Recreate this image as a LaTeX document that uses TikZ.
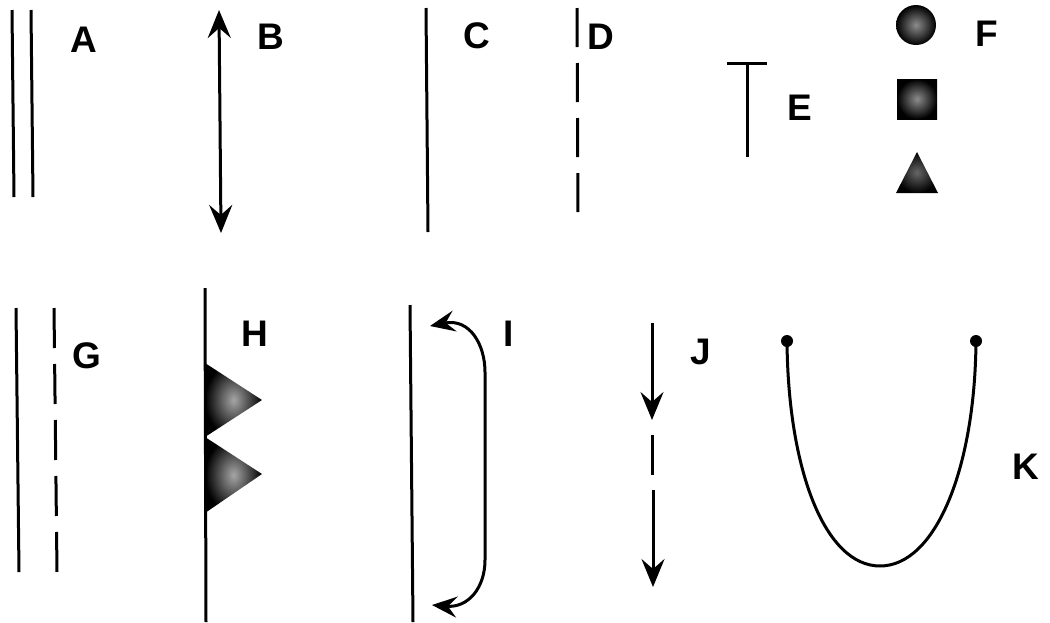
\documentclass[tikz,border=0pt]{standalone}
\usepackage{fontspec}
\setmainfont{Liberation Sans}
\usetikzlibrary{arrows.meta}
\begin{document}
\begin{tikzpicture}[x=1pt,y=-1pt,
  ln/.style={line width=3pt, line cap=butt},
  dsh/.style={ln, dash pattern=on 40pt off 16pt},
  lab/.style={font=\fontsize{37}{37}\selectfont\bfseries, inner sep=0pt, anchor=center},
  tip/.style={-{Stealth[length=28pt,width=23pt,inset=10pt]}},
  tips/.style={{Stealth[length=28pt,width=23pt,inset=10pt]}-{Stealth[length=28pt,width=23pt,inset=10pt]}},
  itips/.style={{Stealth[length=25pt,width=21pt,inset=9pt]}-{Stealth[length=25pt,width=21pt,inset=9pt]}},
  blob/.style={inner color=black!45, outer color=black}]
\useasboundingbox (0,0) rectangle (1050,622);
% A
\draw[ln] (12,10) -- (14,197);
\draw[ln] (31,10) -- (33,197);
\node[lab] (la) at (84,40) {A};
% B
\draw[ln, tips] (219,10) -- (221,233);
\node[lab] (lb) at (271,37) {B};
% C
\draw[ln] (426,8) -- (428,232);
\node[lab] (lc) at (477,36) {C};
% D
\draw[ln, dash pattern=on 39pt off 16pt] (577,8) -- (578,213);
\node[lab] (ld) at (601,37) {D};
% E
\draw[ln] (727,63) -- (767,63);
\draw[ln] (747,63) -- (747,157);
\node[lab] (le) at (800,108) {E};
% F
\shade[blob] (916,25) circle (20);
\shade[blob] (897,79) rectangle (937,119);
\shade[blob, inner color=black!60] (896,193) -- (917,152) -- (938,193) -- cycle;
\node[lab] (lf) at (987,34) {F};
% G
\draw[ln] (16,308) -- (19,572);
\draw[dsh] (54,308) -- (57,572);
\node[lab] (lg) at (87,356) {G};
% H
\shade[blob, inner color=black!35] (205,363) -- (262,400) -- (205,437) -- cycle;
\shade[blob, inner color=black!35] (205,437) -- (262,474) -- (205,513) -- cycle;
\draw[ln] (205,288) -- (206,622);
\node[lab] (lh) at (255,334) {H};
% I
\draw[ln] (410,305) -- (413,622);
\draw[ln, itips] (430,326) .. controls (470,318) and (485,345) .. (485,372) -- (485,560) .. controls (485,588) and (468,608) .. (432,605);
\node[lab] (li) at (509,334) {I};
% J
\draw[ln, tip] (652,323) -- (652,420);
\draw[ln] (652,435) -- (652,475);
\draw[ln, tip] (653,490) -- (653,587);
\node[lab] (lj) at (701,352) {J};
% K
\draw[ln] (787,341) .. controls (788,470) and (825,566) .. (880,566) .. controls (935,566) and (975,470) .. (976,341);
\fill (787,341) circle (6);
\fill (976,341) circle (6);
\node[lab] (lk) at (1026,467) {K};
\end{tikzpicture}
\end{document}
